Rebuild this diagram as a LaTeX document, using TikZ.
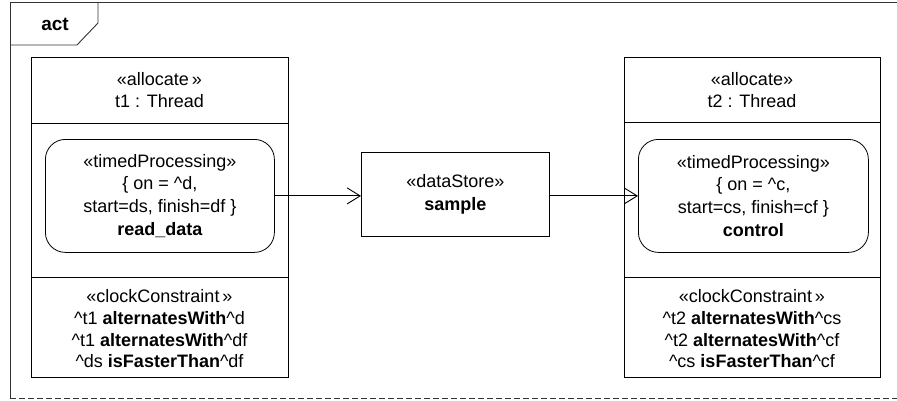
\documentclass[tikz,border=0pt]{standalone}
\usepackage{fontspec}
\setmainfont{Liberation Sans}
\usetikzlibrary{arrows.meta}
\begin{document}
\begin{tikzpicture}[x=1pt,y=-1pt,
  txt/.style={align=center,inner sep=0pt,font=\fontsize{18}{22.7}\selectfont},
  frame/.style={line width=0.9pt,draw=black!80},
  box/.style={draw,line width=0.8pt,inner sep=0pt,anchor=north west},
  action/.style={draw,line width=0.8pt,rounded corners=20pt,inner sep=0pt,anchor=north west},
  flow/.style={line width=0.9pt,-{Straight Barb[length=13pt,width=16pt,line width=0.9pt]}}]
\useasboundingbox (0,0) rectangle (897,400);
% frame
\draw[frame] (897,2) -- (10,2) -- (10,398);
\draw[frame,dash pattern=on 6pt off 3pt] (10,398) -- (897,398);
\draw[frame] (10,45) -- (77,45) -- (98,23) -- (98,2);
\node[txt,font=\fontsize{19}{20}\selectfont\bfseries] (act) at (55,24) {act};
% thread 1
\node[box,minimum width=257pt,minimum height=320pt] (th1) at (31,57) {};
\draw[line width=0.8pt] (31,123) -- (288,123);
\draw[line width=0.8pt] (31,277) -- (288,277);
\node[txt] (h1) at (159.5,90) {«allocate\,»\\t1 : Thread};
\node[action,minimum width=229pt,minimum height=113pt] (rd) at (45,139) {};
\node[txt] (rdt) at (rd.center) {«timedProcessing»\\\{ on = \textasciicircum d,\\start=ds, finish=df \}\\\textbf{read\_data}};
\node[txt,font=\fontsize{18}{21.7}\selectfont] (c1) at (159.5,329) {«clockConstraint\,»\\\textasciicircum t1 \textbf{alternatesWith}\textasciicircum d\\\textasciicircum t1 \textbf{alternatesWith}\textasciicircum df\\\textasciicircum ds \textbf{isFasterThan}\textasciicircum df};
% data store
\node[box,minimum width=188pt,minimum height=84pt] (ds) at (361,152) {};
\node[txt] (dst) at (ds.center) {«dataStore»\\\textbf{sample}};
% thread 2
\node[box,minimum width=256pt,minimum height=320pt] (th2) at (624,57) {};
\draw[line width=0.8pt] (624,122) -- (880,122);
\draw[line width=0.8pt] (624,277) -- (880,277);
\node[txt] (h2) at (752,90) {«allocate»\\t2 : Thread};
\node[action,minimum width=230pt,minimum height=113pt] (ctl) at (638,139) {};
\node[txt] (ctlt) at (ctl.center) {«timedProcessing»\\\{ on = \textasciicircum c,\\start=cs, finish=cf \}\\\textbf{control}};
\node[txt,font=\fontsize{18}{21.7}\selectfont] (c2) at (752,329) {«clockConstraint\,»\\\textasciicircum t2 \textbf{alternatesWith}\textasciicircum cs\\\textasciicircum t2 \textbf{alternatesWith}\textasciicircum cf\\\textasciicircum cs \textbf{isFasterThan}\textasciicircum cf};
% flows
\draw[flow] (rd.east) -- (rd.east -| ds.west);
\draw[flow] (ds.east |- ctl.west) -- (ctl.west);
\end{tikzpicture}
\end{document}
